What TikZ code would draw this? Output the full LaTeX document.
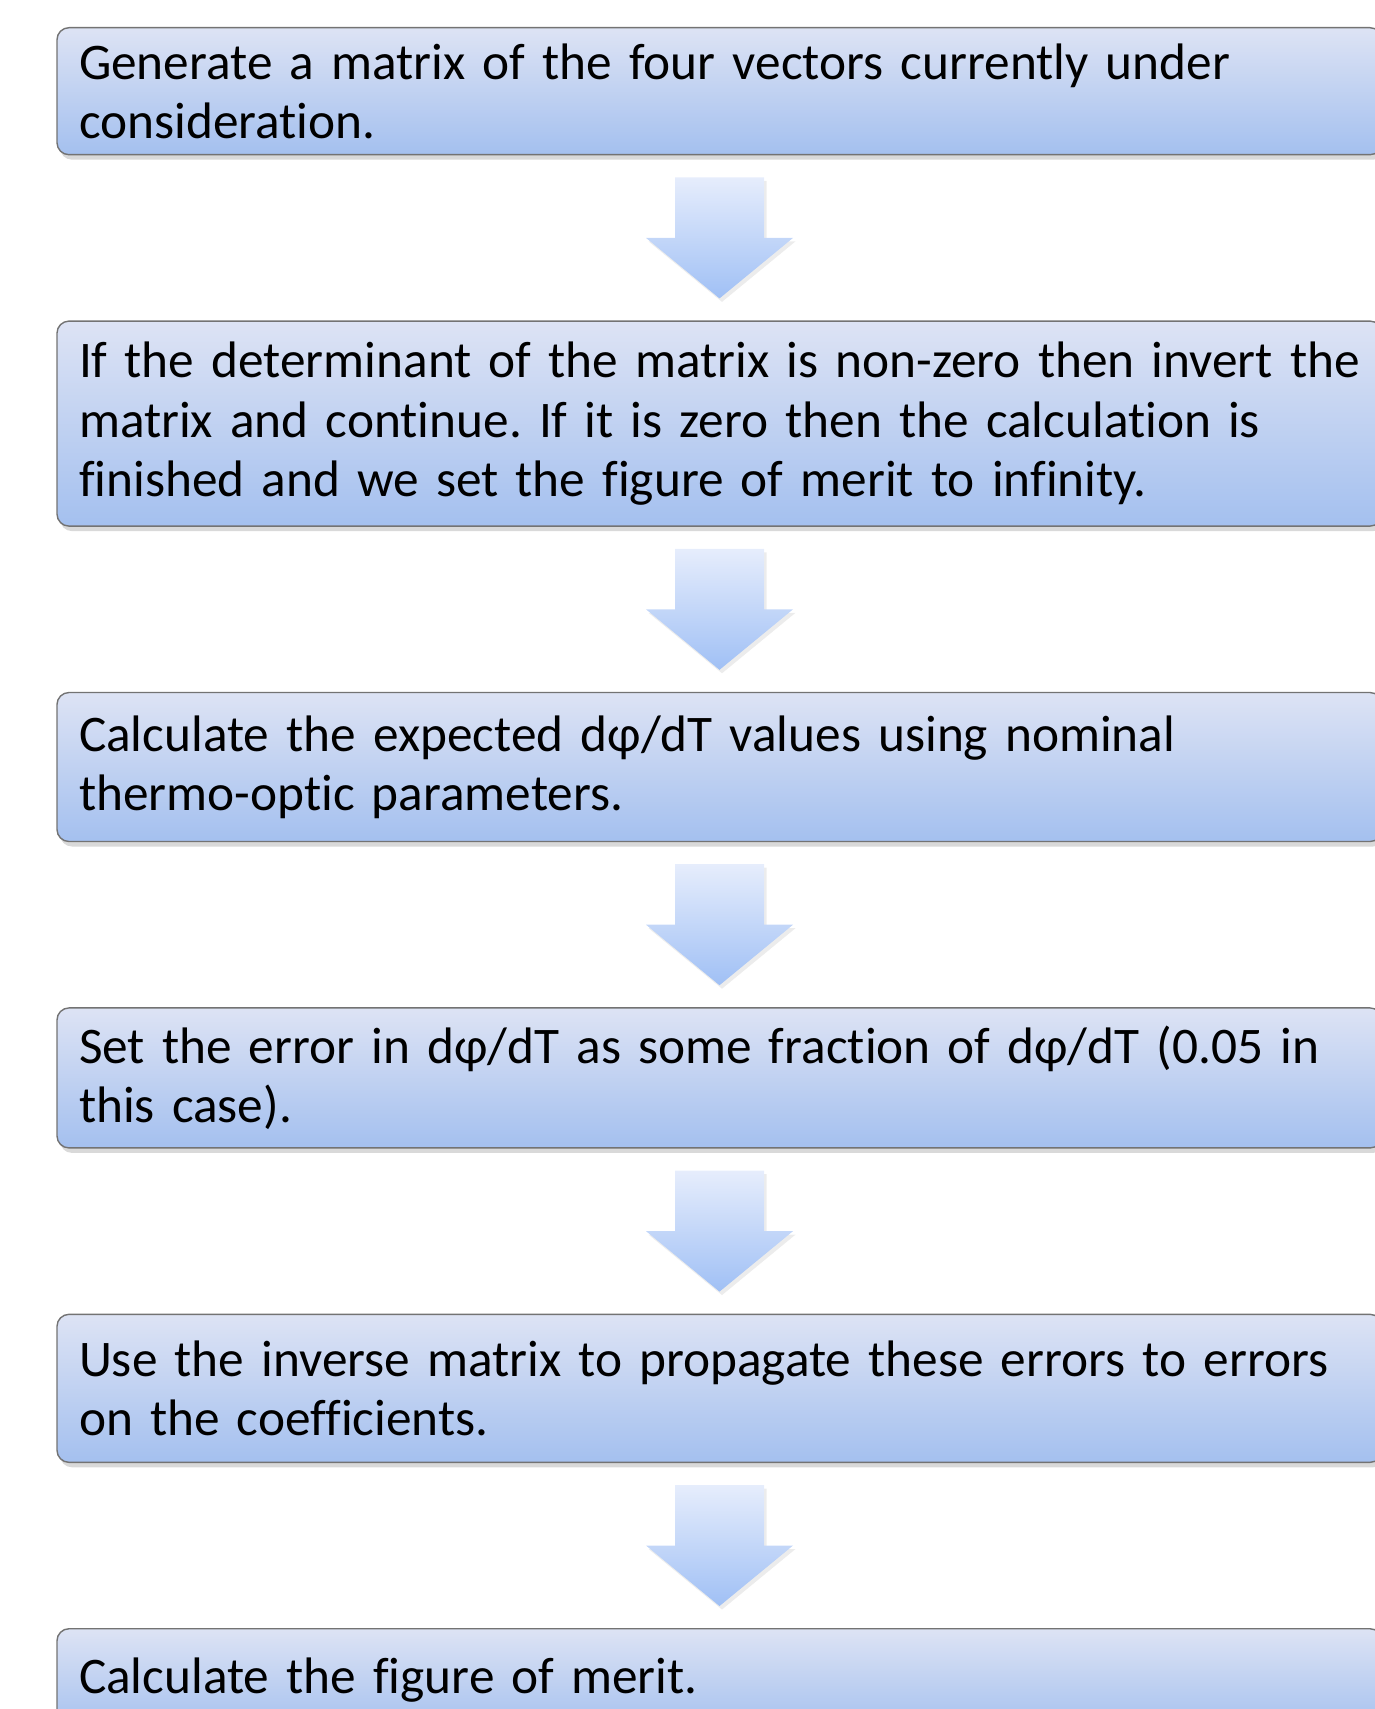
\documentclass[tikz,border=0pt]{standalone}
\usepackage{fontspec}
\setmainfont{Carlito}[Ligatures={NoCommon}]
\usetikzlibrary{positioning,calc,shadows}

\definecolor{boxtop}{RGB}{221,227,244}
\definecolor{boxbot}{RGB}{164,192,239}
\definecolor{arrtop}{RGB}{230,237,252}
\definecolor{arrbot}{RGB}{160,192,245}

\frenchspacing

\begin{document}
\begin{tikzpicture}[
    stepbox/.style={draw=black!55, thin, rounded corners=0.12cm,
      top color=boxtop, bottom color=boxbot,
      drop shadow={shadow xshift=0.3mm, shadow yshift=-0.5mm, opacity=0.3},
      anchor=north, minimum width=13.25cm, text width=12.81cm,
      inner xsep=0.22cm, inner ysep=0pt, align=left,
      font=\fontsize{14.6}{16.8}\selectfont},
    downarrow/.style={top color=arrtop, bottom color=arrbot,
      drop shadow={shadow xshift=0.25mm, shadow yshift=-0.35mm, opacity=0.15}},
    node distance=1.65cm
  ]
  % page frame, the last box runs off the bottom
  \clip (0,0) rectangle (13.75,-17.09);

  \node[stepbox, minimum height=1.27cm] (s1) at (7.195,-0.27)
    {Generate a matrix of the four vectors currently under\\consideration.};
  \node[stepbox, minimum height=2.05cm, below=of s1] (s2)
    {If the determinant of the matrix is non-zero then invert the\\matrix and continue. If it is zero then the calculation is\\finished and we set the figure of merit to infinity.};
  \node[stepbox, minimum height=1.49cm, below=of s2] (s3)
    {Calculate the expected dφ/dT values using nominal\\thermo-optic parameters.};
  \node[stepbox, minimum height=1.40cm, below=of s3] (s4)
    {Set the error in dφ/dT as some fraction of dφ/dT (0.05 in\\this case).};
  \node[stepbox, minimum height=1.48cm, below=of s4] (s5)
    {Use the inverse matrix to propagate these errors to errors\\on the coefficients.};
  \node[stepbox, minimum height=1.02cm, below=of s5] (s6)
    {Calculate the figure of merit.};

  % block arrows in the gaps
  \foreach \a/\b in {s1/s2, s2/s3, s3/s4, s4/s5, s5/s6}{
    \coordinate (m) at ($(\a.south)!0.5!(\b.north)$);
    \path[downarrow] ($(m)+(-0.445,0.605)$) -- ++(0.89,0) -- ++(0,-0.605)
      -- ++(0.29,0) -- ++(-0.735,-0.605) -- ++(-0.735,0.605)
      -- ++(0.29,0) -- cycle;
  }
\end{tikzpicture}
\end{document}
